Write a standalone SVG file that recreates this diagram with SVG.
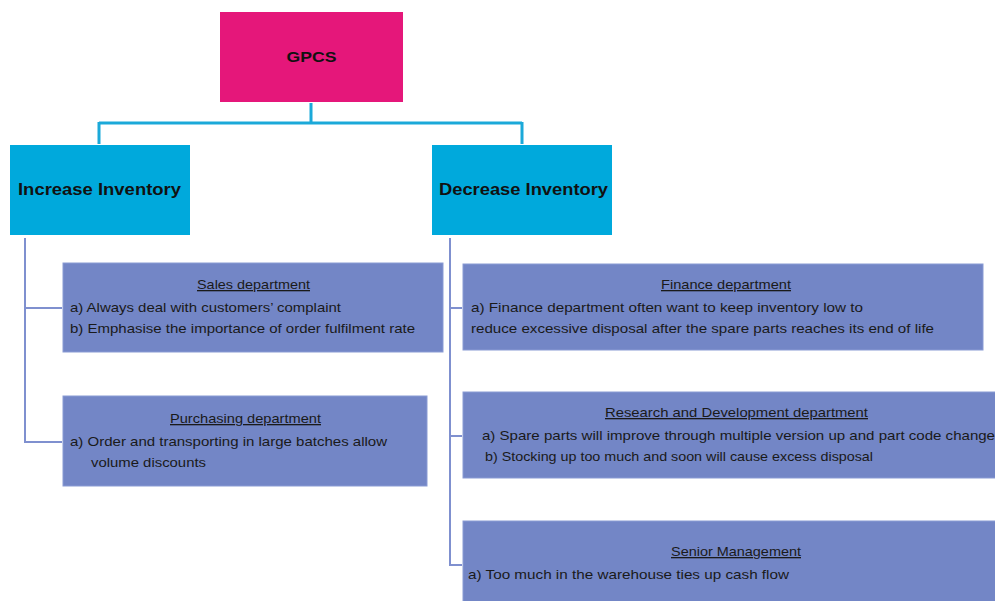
<svg xmlns="http://www.w3.org/2000/svg" width="995" height="601" viewBox="0 0 995 601">
<style>
.body{font-family:"Liberation Sans",Arial,sans-serif;font-size:13px;fill:#1a1a1a}
.ttl{font-family:"Liberation Sans",Arial,sans-serif;font-size:13px;fill:#1a1a1a;text-decoration:underline;text-anchor:middle}
.head{font-family:"Liberation Sans",Arial,sans-serif;font-size:17px;font-weight:bold;fill:#111}
.dept{fill:#7386C6;stroke:#8A9BD4;stroke-width:1}
.cat{fill:#00A9DC}
.c1{fill:none;stroke:#1BA9D9;stroke-width:3}
.c2{fill:none;stroke:#7F90CF;stroke-width:2}
</style>
<rect width="995" height="601" fill="#ffffff"/>
<g id="connectors">
<path class="c1" d="M311,103 V123 M99,123 H522 M99,122 V144 M522,122 V144"/>
<path class="c2" d="M25,238 V442 H62 M25,308 H62"/>
<path class="c2" d="M450,238 V565 H462 M450,308 H462 M450,436 H462"/>
</g>
<g id="gpcs">
<rect x="220" y="12" width="183" height="90" fill="#E5177A"/>
<text x="311.5" y="62" class="head" style="font-size:15px" text-anchor="middle" textLength="50" lengthAdjust="spacingAndGlyphs">GPCS</text>
</g>
<g id="increase">
<rect class="cat" x="10" y="145" width="180" height="90"/>
<text x="18" y="195" class="head" textLength="163" lengthAdjust="spacingAndGlyphs">Increase Inventory</text>
</g>
<g id="decrease">
<rect class="cat" x="432" y="145" width="180" height="90"/>
<text x="439" y="195" class="head" textLength="169" lengthAdjust="spacingAndGlyphs">Decrease Inventory</text>
</g>
<g id="sales">
<rect class="dept" x="63" y="263" width="380" height="89"/>
<text x="253.5" y="289" class="ttl" textLength="113" lengthAdjust="spacingAndGlyphs">Sales department</text>
<text x="70" y="312" class="body" textLength="271" lengthAdjust="spacingAndGlyphs">a) Always deal with customers’ complaint</text>
<text x="70" y="333" class="body" textLength="345" lengthAdjust="spacingAndGlyphs">b) Emphasise the importance of order fulfilment rate</text>
</g>
<g id="purchasing">
<rect class="dept" x="63" y="396" width="364" height="90"/>
<text x="245.5" y="423" class="ttl" textLength="151" lengthAdjust="spacingAndGlyphs">Purchasing department</text>
<text x="70" y="446" class="body" textLength="317" lengthAdjust="spacingAndGlyphs">a) Order and transporting in large batches allow</text>
<text x="91" y="467" class="body" textLength="115" lengthAdjust="spacingAndGlyphs">volume discounts</text>
</g>
<g id="finance">
<rect class="dept" x="463" y="264" width="520" height="86"/>
<text x="726" y="289" class="ttl" textLength="130" lengthAdjust="spacingAndGlyphs">Finance department</text>
<text x="471" y="312" class="body" textLength="392" lengthAdjust="spacingAndGlyphs">a) Finance department   often want to keep inventory low to</text>
<text x="471" y="333" class="body" textLength="463" lengthAdjust="spacingAndGlyphs">reduce excessive disposal after the spare parts reaches its end of life</text>
</g>
<g id="rnd">
<rect class="dept" x="463" y="392" width="540" height="86"/>
<text x="736.5" y="417" class="ttl" textLength="263" lengthAdjust="spacingAndGlyphs">Research and Development department</text>
<text x="482" y="440" class="body" textLength="513" lengthAdjust="spacingAndGlyphs">a) Spare parts will improve through multiple version up and part code change</text>
<text x="485" y="461" class="body" textLength="388" lengthAdjust="spacingAndGlyphs">b) Stocking up too much and soon will cause excess disposal</text>
</g>
<g id="senior">
<rect class="dept" x="463" y="521" width="540" height="90"/>
<text x="736" y="556" class="ttl" textLength="130" lengthAdjust="spacingAndGlyphs">Senior Management</text>
<text x="468" y="579" class="body" textLength="321" lengthAdjust="spacingAndGlyphs">a) Too much in the warehouse ties up cash flow</text>
</g>
</svg>
